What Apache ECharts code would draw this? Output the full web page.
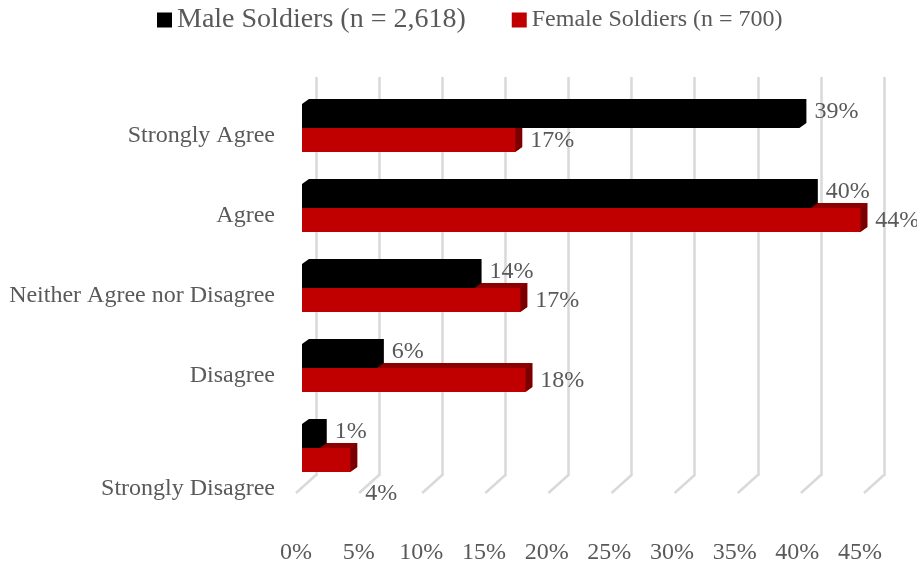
<!DOCTYPE html>
<html>
<head>
<meta charset="utf-8">
<script src="https://cdn.jsdelivr.net/npm/echarts@6/dist/echarts.min.js"></script>
<style>
  html, body { margin: 0; padding: 0; background: #fff; }
  #chart { width: 917px; height: 567px; }
</style>
</head>
<body>
<div id="chart"></div>
<script>
const categories = ["Strongly Agree", "Agree", "Neither Agree nor Disagree", "Disagree", "Strongly Disagree"];
const seriesNames = ["Male Soldiers (n = 2,618)", "Female Soldiers (n = 700)"];
const maleValues = [39.2, 40.1, 13.6, 5.9, 1.4];
const femaleValues = [16.8, 44.0, 17.2, 17.6, 3.8];
const xTicks = [0, 5, 10, 15, 20, 25, 30, 35, 40, 45];

const FONT = '"Liberation Serif", "Times New Roman", serif';
const TEXT = "#595959";
const GRID_LINE = "#d9d9d9";
// fake 3d depth of the bars
const DX = 7, DY = -5, BAR_H = 24;

function face(points, color) {
  return { type: "polygon", shape: { points }, style: { fill: color } };
}

function barRenderer(cfg) {
  return function (params, api) {
    const v = api.value(0);
    const ci = api.value(1);
    const start = api.coord([0, ci]);
    const end = api.coord([v, ci]);
    const cy = start[1];
    const x0 = start[0], x1 = end[0];
    const y0 = cfg.upper ? cy - BAR_H : cy;
    const y1 = y0 + BAR_H;
    const last = ci === categories.length - 1;
    const labelY = cfg.upper ? cy - 16 : cy + 12.5 + (last ? 33 : 0);
    const outline = [[x0, y0], [x0 + DX, y0 + DY], [x1 + DX, y0 + DY], [x1 + DX, y1 + DY], [x1, y1], [x0, y1]];
    const children = [face(outline, cfg.front)];
    if (cfg.top !== cfg.front) {
      children.push(face([[x0, y0], [x0 + DX, y0 + DY], [x1 + DX, y0 + DY], [x1, y0]], cfg.top));
      children.push(face([[x1, y0], [x1 + DX, y0 + DY], [x1 + DX, y1 + DY], [x1, y1]], cfg.side));
      children.push(face([[x0, y0], [x1, y0], [x1, y1], [x0, y1]], cfg.front));
    }
    children.push({
      type: "text",
      x: x1 + 15,
      y: labelY,
      style: { text: Math.round(v) + "%", fill: TEXT, font: "24px " + FONT, verticalAlign: "middle", align: "left" },
    });
    return { type: "group", children };
  };
}

const chart = echarts.init(document.getElementById("chart"));
chart.setOption({
  animation: false,
  backgroundColor: "#fff",
  legend: {
    data: seriesNames,
    top: 6,
    left: 157,
    padding: 0,
    icon: "rect",
    itemWidth: 15,
    itemHeight: 15,
    itemGap: 46,
    formatter: (name) => (name === seriesNames[0] ? "{m|" + name + "}" : "{f|" + name + "}"),
    textStyle: {
      color: TEXT,
      fontFamily: FONT,
      rich: {
        m: { fontSize: 28, fontFamily: FONT, color: TEXT },
        f: { fontSize: 24, fontFamily: FONT, color: TEXT },
      },
    },
  },
  grid: [
    { left: 302, right: 44, top: 88, bottom: 79 },
    { left: 316, right: 33, top: 77, bottom: 91 },
    { left: 296, right: 57, top: 77, bottom: 32 },
  ],
  xAxis: [
    { gridIndex: 0, type: "value", min: 0, max: 45, show: false },
    {
      gridIndex: 1,
      type: "value",
      min: 0,
      max: 45,
      interval: 5,
      axisLabel: { show: false },
      axisLine: { show: false },
      axisTick: { show: false },
      splitLine: { show: true, lineStyle: { color: GRID_LINE, width: 2.5 } },
    },
    {
      gridIndex: 2,
      type: "value",
      min: 0,
      max: 45,
      interval: 5,
      axisLine: { show: false },
      axisTick: { show: false },
      splitLine: { show: false },
      axisLabel: { formatter: "{value}%", color: TEXT, fontSize: 24, fontFamily: FONT, margin: 6 },
    },
  ],
  yAxis: [
    {
      gridIndex: 0,
      type: "category",
      inverse: true,
      data: categories,
      axisLine: { show: false },
      axisTick: { show: false },
      axisLabel: {
        margin: 27,
        // empty first line pushes the text down a bit (last one much more, like the original)
        formatter: (v) => (v === categories[categories.length - 1] ? "{gapL|}\n{t|" + v + "}" : "{gap|}\n{t|" + v + "}"),
        rich: {
          gap: { height: 16, lineHeight: 16, fontSize: 1 },
          gapL: { height: 82, lineHeight: 82, fontSize: 1 },
          t: { color: TEXT, fontSize: 24, fontFamily: FONT, lineHeight: 24, align: "right" },
        },
      },
    },
    { gridIndex: 1, type: "value", min: 0, max: 1, show: false },
    { gridIndex: 2, type: "value", min: 0, max: 1, show: false },
  ],
  series: [
    {
      // floor edges of the gridlines
      type: "custom",
      xAxisIndex: 1,
      yAxisIndex: 1,
      silent: true,
      z: 1,
      data: xTicks.map((t) => [t, 0]),
      renderItem: (params, api) => {
        const p = api.coord([api.value(0), 0]);
        return {
          type: "line",
          shape: { x1: p[0], y1: p[1] - 1, x2: p[0] - 20, y2: p[1] + 17 },
          style: { stroke: GRID_LINE, lineWidth: 2.5 },
        };
      },
    },
    {
      name: seriesNames[1],
      type: "custom",
      xAxisIndex: 0,
      yAxisIndex: 0,
      z: 2,
      itemStyle: { color: "#c00000" },
      encode: { x: 0, y: 1 },
      data: femaleValues.map((v, i) => [v, i]),
      renderItem: barRenderer({ upper: false, front: "#c00000", top: "#8e0000", side: "#7a0000" }),
    },
    {
      name: seriesNames[0],
      type: "custom",
      xAxisIndex: 0,
      yAxisIndex: 0,
      z: 3,
      itemStyle: { color: "#000000" },
      encode: { x: 0, y: 1 },
      data: maleValues.map((v, i) => [v, i]),
      renderItem: barRenderer({ upper: true, front: "#000000", top: "#000000", side: "#000000" }),
    },
  ],
});
</script>
</body>
</html>
